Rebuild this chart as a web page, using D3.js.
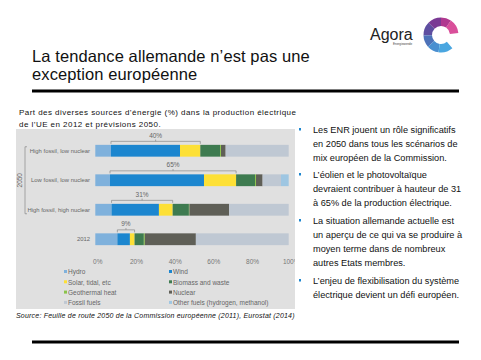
<!DOCTYPE html>
<html><head><meta charset="utf-8">
<script src="https://cdn.jsdelivr.net/npm/d3@7"></script>
<style>body{margin:0;background:#fff}svg{display:block}</style>
</head><body><svg id="c" width="481" height="360"></svg>
<script>
const categories = ["High fossil, low nuclear","Low fossil, low nuclear","High fossil, high nuclear","2012"];
const sources = ["Hydro","Wind","Solar, tidal, etc","Biomass and waste","Geothermal heat","Nuclear","Fossil fuels","Other fuels (hydrogen, methanol)"];
const hydro      = [8.1, 7.6, 8.4, 11.4];
const wind       = [35.7, 48.6, 24.5, 6.5];
const solar      = [10.5, 16.6, 7.1, 2.4];
const biomass    = [10.2, 9.8, 8.4, 4.8];
const geothermal = [0.5, 0.5, 0.3, 0.5];
const nuclear    = [2.4, 3.4, 20.5, 26.4];
const fossil     = [32.6, 9.5, 30.8, 48.0];
const otherFuels = [0, 4.0, 0, 0];
const bracketLabels = ["40%","65%","31%","9%"];
const tickValues = [0,20,40,60,80,100];
const tickLabels = ["0%","20%","40%","60%","80%","100%"];
const colors = ["#7fb1dc","#1c86cf","#fde036","#3e7b50","#8bc34a","#5f5f57","#bfc8d3","#9ec6e2"];
const bullets = [
  ["Les ENR jouent un rôle significatifs","en 2050 dans tous les scénarios de","mix européen de la Commission."],
  ["L’éolien et le photovoltaïque","devraient contribuer à hauteur de 31","à 65% de la production électrique."],
  ["La situation allemande actuelle est","un aperçu de ce qui va se produire à","moyen terme dans de nombreux","autres Etats membres."],
  ["L’enjeu de flexibilisation du système","électrique devient un défi européen."]
];

const series = [hydro, wind, solar, biomass, geothermal, nuclear, fossil, otherFuels];
const svg = d3.select("#c");
const F = "Liberation Sans, Arial, sans-serif";

// logo
svg.append("text").attr("x",370).attr("y",40).attr("font-family",F).attr("font-size",16).attr("font-weight",300).attr("fill","#222").text("Agora");
svg.append("text").attr("x",393).attr("y",44.5).attr("font-family",F).attr("font-size",3).attr("fill","#444").text("Energiewende");
const ring = svg.append("g").attr("transform","translate(441,35)");
const arcGen = d3.arc().innerRadius(9).outerRadius(17.5);
const ringSegs = [[1.45,0.6,"#d94f9a"],[0.6,0,"#b0388f"],[0,-0.8,"#7a3a94"],[-0.8,-1.6,"#5e4ea0"],[-1.6,-2.3,"#4d72b8"],[-2.3,-3.0,"#4a8fd0"],[-3.0,-3.85,"#4aa6e0"]];
ringSegs.forEach(s=>ring.append("path").attr("d",arcGen({startAngle:s[1],endAngle:s[0]})).attr("fill",s[2]));

// title
svg.append("text").attr("x",32).attr("y",62).attr("font-family",F).attr("font-size",16.5).attr("letter-spacing",0.1).attr("fill","#111").text("La tendance allemande n’est pas une");
svg.append("text").attr("x",32).attr("y",80).attr("font-family",F).attr("font-size",16.5).attr("letter-spacing",0.1).attr("fill","#111").text("exception européenne");
svg.append("rect").attr("x",32).attr("y",89.5).attr("width",427).attr("height",3).attr("fill","#000");
svg.append("rect").attr("x",32).attr("y",340.5).attr("width",427).attr("height",3).attr("fill","#000");

// chart subtitle
svg.append("text").attr("x",19).attr("y",114.5).attr("font-family",F).attr("font-size",8).attr("letter-spacing",0.45).attr("fill","#111").text("Part des diverses sources d’énergie (%) dans la production électrique");
svg.append("text").attr("x",19).attr("y",126.5).attr("font-family",F).attr("font-size",8).attr("letter-spacing",0.45).attr("fill","#111").text("de l’UE en 2012 et prévisions 2050.");

// panel
svg.append("defs").append("clipPath").attr("id","pc").append("rect").attr("x",16).attr("y",129).attr("width",279).attr("height",180);
svg.append("rect").attr("x",16).attr("y",129).attr("width",279).attr("height",180).attr("fill","#e0e0e0");
const P = svg.append("g").attr("clip-path","url(#pc)");

const x = d3.scaleLinear().domain([0,100]).range([95.3,288.7]);
const y = d3.scaleBand().domain(categories).range([136,254]).paddingInner(0.6).paddingOuter(0.3);

const stackData = categories.map((c,i)=>{const o={cat:c}; sources.forEach((s,j)=>o[s]=series[j][i]); return o;});
const stacked = d3.stack().keys(sources)(stackData);
stacked.forEach((layer,j)=>{
  P.selectAll(null).data(layer).enter().append("rect")
    .attr("x",d=>x(d[0])).attr("width",d=>Math.max(0,x(d[1])-x(d[0])))
    .attr("y",d=>y(d.data.cat)).attr("height",y.bandwidth())
    .attr("fill",colors[j]);
});

// row labels
P.selectAll(null).data(categories).enter().append("text")
  .attr("x",90).attr("y",d=>y(d)+y.bandwidth()/2+2.2).attr("text-anchor","end")
  .attr("font-family",F).attr("font-size",5.9).attr("fill","#666").text(d=>d);

// brackets over wind+solar
categories.forEach((c,i)=>{
  const x0 = x(hydro[i]), x1 = x(hydro[i]+wind[i]+solar[i]);
  const yt = y(c)-3.5;
  const g = P.append("g").attr("stroke","#888").attr("stroke-width",0.7).attr("fill","none");
  g.append("path").attr("d",`M${x0},${yt+2.5}V${yt}H${x1}V${yt+2.5}M${(x0+x1)/2},${yt}V${yt-1.8}`);
  P.append("text").attr("x",(x0+x1)/2).attr("y",yt-3.5).attr("text-anchor","middle")
   .attr("font-family",F).attr("font-size",6.5).attr("fill","#666").text(bracketLabels[i]);
});

// 2050 bracket
const yA = y(categories[0])+y.bandwidth()/2-4, yB = y(categories[2])+y.bandwidth()/2+4;
P.append("path").attr("d",`M27,${yA}H25V${yB}H27`).attr("stroke","#888").attr("stroke-width",0.7).attr("fill","none");
P.append("text").attr("transform",`translate(22,${(yA+yB)/2}) rotate(-90)`).attr("text-anchor","middle")
  .attr("font-family",F).attr("font-size",6.5).attr("fill","#666").text("2050");

// axis
const ax = P.append("g").attr("transform","translate(0,256)").call(d3.axisBottom(x).tickValues(tickValues).tickFormat((d,i)=>tickLabels[i]).tickSize(0));
ax.select(".domain").remove();
ax.selectAll("text").attr("font-family",F).attr("font-size",6.5).attr("fill","#777").attr("dx",2);

// legend
sources.forEach((s,j)=>{
  const col = j%2, row = Math.floor(j/2);
  const lx = col===0?64:169, ly = 272+row*10.3;
  P.append("rect").attr("x",lx).attr("y",ly-2).attr("width",3).attr("height",3).attr("fill",colors[j]);
  P.append("text").attr("x",lx+4).attr("y",ly+2.2).attr("font-family",F).attr("font-size",6.5).attr("fill","#666").text(s);
});

// source
svg.append("text").attr("x",16).attr("y",318).attr("font-family",F).attr("font-size",7).attr("letter-spacing",0.2).attr("font-style","italic").attr("fill","#111")
  .text("Source: Feuille de route 2050 de la Commission européenne (2011), Eurostat (2014)");

// bullets
const starts = [130,175,221,281];
bullets.forEach((lines,i)=>{
  svg.append("rect").attr("x",299).attr("y",starts[i]-2).attr("width",2).attr("height",2.5).attr("fill","#1c86cf");
  lines.forEach((t,k)=>svg.append("text").attr("x",313).attr("y",starts[i]+3+k*14).attr("font-family",F).attr("font-size",9.2).attr("fill","#111").text(t));
});
</script></body></html>
